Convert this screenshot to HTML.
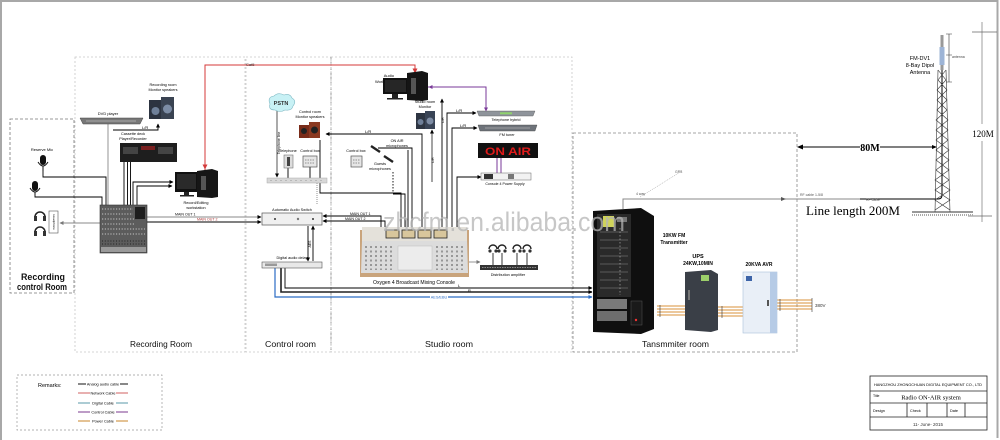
<!DOCTYPE html>
<html><head><meta charset="utf-8"><style>
html,body{margin:0;padding:0;background:#fff;}
svg{display:block;font-family:"Liberation Sans",sans-serif;}
</style></head><body>
<svg width="1000" height="440" viewBox="0 0 1000 440" xmlns="http://www.w3.org/2000/svg">
<defs>
<marker id="ab" markerWidth="4" markerHeight="4" refX="3.5" refY="2" orient="auto" markerUnits="userSpaceOnUse"><path d="M0,0 L4,2 L0,4z" fill="#000"/></marker>
<marker id="ag" markerWidth="4" markerHeight="4" refX="3.5" refY="2" orient="auto" markerUnits="userSpaceOnUse"><path d="M0,0 L4,2 L0,4z" fill="#777"/></marker>
<marker id="ar" markerWidth="5" markerHeight="5" refX="4.5" refY="2.5" orient="auto" markerUnits="userSpaceOnUse"><path d="M0,0 L5,2.5 L0,5z" fill="#d43a3a"/></marker>
<marker id="abl" markerWidth="4" markerHeight="4" refX="3.5" refY="2" orient="auto" markerUnits="userSpaceOnUse"><path d="M0,0 L4,2 L0,4z" fill="#2b6cc4"/></marker>
<marker id="ap" markerWidth="4" markerHeight="4" refX="3.5" refY="2" orient="auto" markerUnits="userSpaceOnUse"><path d="M0,0 L4,2 L0,4z" fill="#7a3a99"/></marker>
</defs>
<rect width="1000" height="440" fill="#fff"/>
<!-- outer border -->
<path d="M1,440 V1 H997.5 V438" fill="none" stroke="#a8a8a8" stroke-width="2"/>

<!-- room boxes -->
<g fill="none" stroke-width="0.8">
<rect x="10" y="119" width="64" height="174" stroke="#777" stroke-dasharray="3,2"/>
<rect x="75" y="57" width="170" height="295" stroke="#c8c8c8" stroke-dasharray="2,2"/>
<rect x="246" y="57" width="85" height="295" stroke="#c8c8c8" stroke-dasharray="2,2"/>
<line x1="331" y1="57" x2="331" y2="352" stroke="#888" stroke-dasharray="3,2"/>
<rect x="331" y="57" width="241" height="295" stroke="#c8c8c8" stroke-dasharray="2,2"/>
<rect x="573" y="133" width="224" height="219" stroke="#888" stroke-dasharray="3,2"/>
</g>

<!-- room labels -->
<g font-size="9" fill="#111" font-weight="bold">
<text x="43" y="280" text-anchor="middle" textLength="44" lengthAdjust="spacingAndGlyphs">Recording</text>
<text x="42" y="290" text-anchor="middle" textLength="50" lengthAdjust="spacingAndGlyphs">control Room</text>
</g>
<g font-size="8.5" fill="#111">
<text x="130" y="347" textLength="62" lengthAdjust="spacingAndGlyphs">Recording Room</text>
<text x="265" y="347" textLength="51" lengthAdjust="spacingAndGlyphs">Control room</text>
<text x="425" y="347" textLength="48" lengthAdjust="spacingAndGlyphs">Studio room</text>
<text x="642" y="347" textLength="67" lengthAdjust="spacingAndGlyphs">Tansmmiter room</text>
</g>

<!-- ================= CONNECTIONS ================= -->
<!-- red Cat5 -->
<path d="M205,170 V65 H415 V73" fill="none" stroke="#d43a3a" stroke-width="1" marker-end="url(#ar)"/>
<line x1="205" y1="160" x2="205" y2="169" stroke="#d43a3a" marker-end="url(#ar)"/>
<text x="246" y="66" font-size="4" fill="#333">Cat5</text>
<!-- purple -->
<path d="M428,87 H486 V111" fill="none" stroke="#7a3a99" stroke-width="1" marker-end="url(#ap)"/>
<line x1="430" y1="87" x2="429" y2="87" stroke="#7a3a99" marker-end="url(#ap)"/>
<path d="M497,157 V173 M501,157 V173" stroke="#7a3a99" stroke-width="1"/>

<g fill="none" stroke="#000" stroke-width="0.9">
<!-- recording room -->
<path d="M108,123 V205" stroke="#888"/>
<path d="M113,130 H158 V124" marker-end="url(#ab)"/>
<path d="M124,162 V206 M127.5,162 V206 M130.5,162 V206"/>
<path d="M133,206 V182 H173" marker-end="url(#ab)"/>
<path d="M137,206 V186 H172" marker-end="url(#ab)"/>
<path d="M43,171 V177 H106 V205"/>
<path d="M35,194 V197 H102 V205"/>
<path d="M100,223 H60" stroke="#888" marker-end="url(#ag)"/>
<path d="M147,217 H261" stroke="#888" marker-end="url(#ab)"/>
<path d="M147,222 H261" marker-end="url(#ab)"/>
<!-- control room -->
<path d="M277,108 V177" stroke="#444" marker-end="url(#ab)"/>
<path d="M288,168 V178 M310,167 V178"/>
<path d="M320,140 V193 H401 V227"/>
<path d="M317,183 V205" stroke="#888" stroke-dasharray="1,1"/>
<path d="M422,227 V134 H326" marker-end="url(#ab)"/>
<path d="M381,227 V216 H323" marker-end="url(#ab)"/>
<path d="M385,227 V221 H323" marker-end="url(#ab)"/>
<path d="M308,226 V261" marker-end="url(#ab)"/>
<path d="M313,261 V226" marker-end="url(#ab)"/>
<path d="M285,268 V288 H592" marker-end="url(#ab)"/>
<path d="M281,268 V292 H592" stroke="#222" stroke-width="1.6" marker-end="url(#ab)"/>
<!-- studio -->
<path d="M378,148 H412 V227"/>
<path d="M393,172 V193" stroke-dasharray="1.5,1.5"/>
<path d="M393,194 H405 V227"/>
<path d="M408,150 V227"/>
<path d="M432,182 V130" stroke="#333" marker-end="url(#ab)"/>
<path d="M442,227 V99" marker-end="url(#ab)"/>
<path d="M447,227 V113 H476" marker-end="url(#ab)"/>
<path d="M452,227 V128 H477" marker-end="url(#ab)"/>
<path d="M457,227 V177 H481" marker-end="url(#ab)"/>
<path d="M469,262 H480" stroke="#888" marker-end="url(#ag)"/>
<path d="M493,253 V265 M502,253 V265 M517,253 V265 M527,253 V265" stroke="#222"/>
</g>
<path d="M275,268 V297 H592" fill="none" stroke="#2b6cc4" stroke-width="1.2" marker-end="url(#abl)"/>

<!-- transmitter feeder & tower lines -->
<path d="M623,209 V199 H860" fill="none" stroke="#888" stroke-width="1"/>
<path d="M860,199 H938 Q942,199 942,195 V62" fill="none" stroke="#000" stroke-width="1"/>
<path d="M786,199 L781,197 L781,201z" fill="#555"/>
<line x1="800" y1="147" x2="860" y2="147" stroke="#000" stroke-width="1"/>
<line x1="880" y1="147" x2="936" y2="147" stroke="#000" stroke-width="1"/>
<path d="M797,147 L803,144.5 L803,149.5z" fill="#000"/>
<path d="M937,147 L932,145 L932,149z" fill="#000"/>
<text x="870" y="151" font-family="Liberation Serif,serif" font-size="10" font-weight="bold" text-anchor="middle">80M</text>
<path d="M982,22 V124 M982,141 V222" stroke="#888" stroke-width="0.8"/>
<path d="M972,32 H997 M968,216 H992" stroke="#666" stroke-width="0.8"/>
<text x="983" y="137" font-family="Liberation Serif,serif" font-size="9" text-anchor="middle">120M</text>
<text x="806" y="215" font-family="Liberation Serif,serif" font-size="12.5" textLength="94" lengthAdjust="spacingAndGlyphs">Line length 200M</text>
<g font-size="3.5" fill="#555">
<text x="636" y="195">4 way</text><text x="675" y="173">GPS</text>
<text x="800" y="196">RF cable  1-5/8</text><text x="866" y="201">RF cable</text>
</g>
<path d="M640,197 L682,171" stroke="#888" stroke-width="0.5" stroke-dasharray="1,1"/>

<!-- power lines -->
<g stroke="#d8913a" stroke-width="0.9">
<path d="M657,306 H685 M657,309 H685 M657,312 H685 M657,315 H685"/>
<path d="M718,307 H743 M718,310 H743 M718,313 H743 M718,316 H743"/>
<path d="M777,300 H812 M777,303 H812 M777,306 H812 M777,309 H812"/>
</g>
<g stroke="#333" stroke-width="0.6">
<path d="M660,305 V317 M722,306 V318 M780,299 V311 M812,298 V312"/>
</g>
<text x="815" y="307" font-size="4.5" fill="#333">380V</text>

<!-- ================= DEVICES ================= -->
<!-- Recording room -->
<polygon points="80,118 143,118 140,124 83,124" fill="#777" stroke="#444" stroke-width="0.5"/>
<line x1="86" y1="121" x2="136" y2="121" stroke="#bbb" stroke-width="0.8"/>
<text x="108" y="115" font-size="4" text-anchor="middle">DVD player</text>
<rect x="149" y="100" width="13" height="19" fill="#2c3340"/>
<rect x="161" y="97" width="13" height="22" fill="#3a4352"/>
<circle cx="155.5" cy="111" r="4" fill="#6f8099"/><circle cx="167.5" cy="109" r="4.5" fill="#7c8ca5"/>
<text x="163" y="86" font-size="3.8" text-anchor="middle">Recording room</text>
<text x="163" y="91" font-size="3.8" text-anchor="middle">Monitor speakers</text>
<text x="142" y="129" font-size="4">L/R</text>
<text x="133" y="135" font-size="3.8" text-anchor="middle">Cassette deck</text>
<text x="133" y="140" font-size="3.8" text-anchor="middle">Player/Recorder</text>
<rect x="120" y="143" width="57" height="19" fill="#1e1e1e"/>
<rect x="123" y="147" width="15" height="7" fill="#444"/><rect x="158" y="147" width="15" height="7" fill="#444"/>
<rect x="141" y="146" width="14" height="4" fill="#7a2020"/>
<!-- microphones -->
<text x="42" y="151" font-size="4" text-anchor="middle">Reserve Mic</text>
<rect x="40" y="155" width="6" height="10" rx="3" fill="#111"/><path d="M38,162 Q43,170 48,162" fill="none" stroke="#111"/><line x1="43" y1="166" x2="43" y2="171" stroke="#111"/>
<rect x="32" y="181" width="6" height="10" rx="3" fill="#111"/><path d="M30,188 Q35,196 40,188" fill="none" stroke="#111"/><line x1="35" y1="192" x2="35" y2="195" stroke="#111"/>
<!-- headphones -->
<g fill="none" stroke="#222" stroke-width="1.5">
<path d="M35,217 A5,5 0 0 1 45,217"/><path d="M35,232 A5,5 0 0 1 45,232"/>
</g>
<g fill="#333"><rect x="34" y="216" width="3" height="5"/><rect x="43" y="216" width="3" height="5"/><rect x="34" y="231" width="3" height="5"/><rect x="43" y="231" width="3" height="5"/></g>
<rect x="49" y="211" width="9" height="22" fill="#fff" stroke="#555" stroke-width="0.6"/>
<text x="53" y="222" font-size="3" transform="rotate(90 53 222)" text-anchor="middle">Headphone</text>
<!-- mixer -->
<rect x="100" y="205" width="47" height="48" fill="#5c5c5c" stroke="#333" stroke-width="0.6"/>
<g stroke="#b0b0b0" stroke-width="1.2" stroke-dasharray="1.2,1.6">
<line x1="102" y1="209" x2="133" y2="209"/><line x1="102" y1="214" x2="133" y2="214"/>
<line x1="102" y1="219" x2="135" y2="219"/><line x1="102" y1="224" x2="135" y2="224"/>
<line x1="102" y1="229" x2="145" y2="229"/><line x1="102" y1="234" x2="145" y2="234"/>
</g>
<rect x="135" y="207" width="10" height="12" fill="#1e1e1e"/>
<g stroke="#222" stroke-width="1" stroke-dasharray="1,1.8"><line x1="102" y1="241" x2="145" y2="241"/><line x1="102" y1="244" x2="145" y2="244"/></g>
<rect x="101" y="247" width="45" height="5" fill="#9a9a9a"/>
<!-- rec PC -->
<rect x="175" y="172" width="23" height="20" fill="#111"/>
<rect x="177" y="174" width="19" height="15" fill="#2a2a2a"/>
<rect x="184" y="192" width="5" height="3" fill="#222"/><rect x="180" y="195" width="14" height="1.5" fill="#222"/>
<polygon points="197,171 212,169 218,171 218,197 212,198 197,197" fill="#161616"/>
<rect x="201" y="176" width="5" height="14" fill="#555"/>
<text x="196" y="204" font-size="3.8" text-anchor="middle">Record/Editing</text>
<text x="196" y="209" font-size="3.8" text-anchor="middle">workstation</text>
<text x="175" y="215.5" font-size="3.6">MAIN OUT 1</text>
<text x="197" y="220.5" font-size="3.6" fill="#a33">MAIN OUT 2</text>

<!-- Control room -->
<path d="M270,104 Q267,97 274,96 Q278,92 284,95 Q290,93 292,98 Q297,101 293,106 Q292,111 285,110 Q280,113 275,110 Q268,110 270,104z" fill="#c8f1f5" stroke="#7fb9c4" stroke-width="0.6"/>
<text x="281" y="105" font-size="5.5" font-weight="bold" text-anchor="middle" fill="#333">PSTN</text>
<text x="280" y="143" font-size="3.5" transform="rotate(-90 280 143)" text-anchor="middle">Telephone line</text>
<text x="310" y="113" font-size="3.8" text-anchor="middle">Control room</text>
<text x="310" y="118" font-size="3.8" text-anchor="middle">Monitor speakers</text>
<rect x="299" y="125" width="10" height="13" fill="#7a2c1a"/><rect x="309" y="122" width="11" height="16" fill="#8b3a22"/>
<circle cx="304" cy="131" r="3" fill="#222"/><circle cx="314.5" cy="130" r="3.5" fill="#222"/>
<text x="365" y="133" font-size="4">L/R</text>
<text x="288" y="152" font-size="3.8" text-anchor="middle">Telephone</text>
<rect x="284" y="155" width="9" height="13" fill="#ddd" stroke="#777" stroke-width="0.6"/><rect x="287" y="157" width="3" height="9" fill="#444"/>
<text x="310" y="152" font-size="3.8" text-anchor="middle">Control box</text>
<rect x="303" y="156" width="14" height="11" fill="#e6e6e6" stroke="#555" stroke-width="0.7"/>
<path d="M305,160 H315 M305,163 H315" stroke="#777" stroke-width="0.8" stroke-dasharray="1.5,1"/>
<rect x="267" y="178" width="60" height="5" fill="#d8d8d8" stroke="#aaa" stroke-width="0.5"/>
<path d="M270,180.5 H325" stroke="#999" stroke-width="0.6" stroke-dasharray="2,3"/>
<text x="292" y="211" font-size="3.8" text-anchor="middle">Automatic Audio Switch</text>
<rect x="262" y="213" width="60" height="12" fill="#f0f0f0" stroke="#555" stroke-width="0.7"/>
<circle cx="275" cy="219" r="1" fill="#333"/><circle cx="298" cy="219" r="1.2" fill="#777"/><circle cx="313" cy="219" r="1" fill="#333"/>
<text x="350" y="215" font-size="3.6">MAIN OUT 1</text>
<text x="345" y="220" font-size="3.6">MAIN OUT 2</text>
<text x="311" y="244" font-size="3.5" transform="rotate(-90 311 244)" text-anchor="middle">AES</text>
<text x="292" y="259" font-size="3.8" text-anchor="middle">Digital audio delay</text>
<rect x="262" y="262" width="60" height="6" fill="#e8e8e8" stroke="#555" stroke-width="0.6"/>
<rect x="265" y="263.5" width="12" height="2.5" fill="#999"/>

<!-- Studio -->
<text x="394" y="77" font-size="4" text-anchor="end">Audio</text>
<text x="396" y="83" font-size="4" text-anchor="end">Workstation</text>
<rect x="383" y="78" width="25" height="16" fill="#111"/>
<rect x="385" y="80" width="21" height="12" fill="#262626"/>
<rect x="392" y="94" width="6" height="4" fill="#222"/><rect x="387" y="98" width="16" height="1.5" fill="#222"/>
<polygon points="407,73 422,71 428,73 428,100 422,101 407,100" fill="#151515"/>
<rect x="411" y="78" width="5" height="16" fill="#555"/>
<text x="425" y="103" font-size="3.8" text-anchor="middle">Studio room</text>
<text x="425" y="108" font-size="3.8" text-anchor="middle">Monitor</text>
<rect x="416" y="113" width="9" height="16" fill="#2d3542"/><rect x="425" y="111" width="10" height="18" fill="#394456"/>
<circle cx="420.5" cy="122" r="3" fill="#6e7f98"/><circle cx="430" cy="121" r="3.5" fill="#7d8ca4"/>
<text x="434" y="160" font-size="3.5" transform="rotate(-90 434 160)" text-anchor="middle">L/R</text>
<text x="444" y="120" font-size="3.5" transform="rotate(-90 444 120)" text-anchor="middle">L/R</text>
<text x="456" y="112" font-size="4">L/R</text>
<text x="460" y="127" font-size="4">L/R</text>
<!-- rack devices -->
<polygon points="477,111 535,111 533,116 479,116" fill="#8f949b" stroke="#555" stroke-width="0.4"/>
<rect x="500" y="112.3" width="12" height="2" fill="#8fd36b"/>
<text x="506" y="121" font-size="3.8" text-anchor="middle">Telephone hybrid</text>
<polygon points="478,125 537,125 535,131 480,131" fill="#6e737a" stroke="#444" stroke-width="0.4"/>
<line x1="485" y1="128" x2="530" y2="128" stroke="#ccc" stroke-width="0.6"/>
<text x="507" y="136" font-size="3.8" text-anchor="middle">FM tuner</text>
<rect x="478" y="143" width="60" height="15" fill="#111"/>
<text x="508" y="155" font-size="11" font-weight="bold" fill="#e01a1a" text-anchor="middle" textLength="46" lengthAdjust="spacingAndGlyphs">ON AIR</text>
<rect x="481" y="173" width="50" height="7" fill="#f2f2f2" stroke="#666" stroke-width="0.5"/>
<rect x="484" y="174" width="9" height="5" fill="#333"/><rect x="508" y="174" width="6" height="5" fill="#777"/>
<text x="505" y="185" font-size="3.6" text-anchor="middle">Console 4 Power Supply</text>
<text x="356" y="152" font-size="3.8" text-anchor="middle">Control box</text>
<rect x="351" y="156" width="11" height="11" fill="#e6e6e6" stroke="#555" stroke-width="0.7"/>
<path d="M353,160 H360 M353,163 H360" stroke="#777" stroke-width="0.8" stroke-dasharray="1.5,1"/>
<text x="397" y="142" font-size="3.8" text-anchor="middle">ON AIR</text>
<text x="397" y="147" font-size="3.8" text-anchor="middle">microphones</text>
<path d="M371,146 L380,152" stroke="#222" stroke-width="2.4"/>
<path d="M384,156 L393,162" stroke="#222" stroke-width="2.4"/>
<text x="380" y="165" font-size="3.8" text-anchor="middle">Guests</text>
<text x="380" y="170" font-size="3.8" text-anchor="middle">microphones</text>
<!-- console -->
<polygon points="360,230 469,230 469,277 360,277" fill="#c9a47c"/>
<rect x="362" y="227" width="105" height="14" fill="#e4e1da"/>
<g fill="#d8c69c" stroke="#222" stroke-width="0.8">
<rect x="386" y="230" width="13" height="8"/><rect x="402" y="230" width="13" height="8"/>
<rect x="418" y="230" width="13" height="8"/><rect x="434" y="230" width="13" height="8"/>
</g>
<polygon points="362,241 467,241 468,273 361,273" fill="#dcdcdc"/>
<rect x="398" y="246" width="34" height="24" fill="#ececec" stroke="#bbb" stroke-width="0.5"/>
<g stroke="#555" stroke-width="1" stroke-dasharray="2,2.5">
<path d="M366,246 V270 M371,246 V270 M376,246 V270 M381,246 V270 M386,246 V270 M391,246 V270"/>
<path d="M437,246 V270 M442,246 V270 M447,246 V270 M452,246 V270 M457,246 V270 M462,246 V270"/>
</g>
<text x="414" y="284" font-size="5" text-anchor="middle" textLength="82" lengthAdjust="spacingAndGlyphs">Oxygen 4 Broadcast Mixing Console</text>
<!-- headphone distribution -->
<g fill="none" stroke="#222" stroke-width="1.4">
<path d="M489,249 A4,4 0 0 1 497,249"/><path d="M498,249 A4,4 0 0 1 506,249"/>
<path d="M513,249 A4,4 0 0 1 521,249"/><path d="M523,249 A4,4 0 0 1 531,249"/>
</g>
<g fill="#333"><circle cx="490" cy="251" r="1.6"/><circle cx="496" cy="251" r="1.6"/><circle cx="499" cy="251" r="1.6"/><circle cx="505" cy="251" r="1.6"/><circle cx="514" cy="251" r="1.6"/><circle cx="520" cy="251" r="1.6"/><circle cx="524" cy="251" r="1.6"/><circle cx="530" cy="251" r="1.6"/></g>
<rect x="480" y="265" width="58" height="5" fill="#333"/>
<path d="M482,267.5 H536" stroke="#888" stroke-width="1" stroke-dasharray="1.5,1"/>
<text x="508" y="276" font-size="3.8" text-anchor="middle">Distribution amplifier</text>
<text x="458" y="287" font-size="4">L</text>
<text x="468" y="292" font-size="4">R</text>
<rect x="430" y="295" width="18" height="4" fill="#fff"/>
<text x="439" y="298.5" font-size="3.8" fill="#2b6cc4" text-anchor="middle">AES/EBU</text>

<!-- Transmitter -->
<polygon points="593,211 641,208 654,216 654,329 641,334 593,332" fill="#0f0f0f"/>
<rect x="597" y="214" width="34" height="83" fill="#2a2a2a"/>
<rect x="603" y="216" width="11" height="11" fill="#cfd35a"/>
<rect x="617" y="217" width="10" height="5" fill="#777"/>
<g stroke="#888" stroke-width="0.6">
<path d="M600,232 H628 M600,240 H628 M600,248 H628 M600,256 H628 M600,264 H628 M600,272 H628 M600,280 H628 M600,288 H628"/>
</g>
<g stroke="#bbb" stroke-width="0.6" stroke-dasharray="1.5,2"><path d="M620,228 V295"/></g>
<rect x="597" y="299" width="30" height="10" fill="#7a7a7a"/>
<rect x="597" y="311" width="30" height="10" fill="#6e6e6e"/>
<rect x="631" y="301" width="11" height="24" fill="#1a1a1a" stroke="#555" stroke-width="0.5"/>
<circle cx="636" cy="320" r="1.2" fill="#e33"/>
<text x="674" y="237" font-size="5" font-weight="bold" text-anchor="middle">10KW FM</text>
<text x="674" y="244" font-size="5" font-weight="bold" text-anchor="middle">Transmitter</text>
<!-- UPS -->
<text x="698" y="258" font-size="5.5" font-weight="bold" text-anchor="middle">UPS</text>
<text x="698" y="265" font-size="5" font-weight="bold" text-anchor="middle">24KW,10MIN</text>
<polygon points="685,272 711,270 718,274 718,330 711,332 685,330" fill="#3a3f47"/>
<rect x="701" y="275" width="8" height="6" fill="#9ccf6a"/>
<rect x="688" y="290" width="2" height="10" fill="#777"/>
<!-- AVR -->
<text x="759" y="266" font-size="5" font-weight="bold" text-anchor="middle">20KVA AVR</text>
<rect x="743" y="272" width="34" height="61" fill="#e9eff7" stroke="#a9c0da" stroke-width="0.6"/>
<rect x="770" y="272" width="7" height="61" fill="#b6cbe6"/>
<rect x="746" y="276" width="6" height="5" fill="#3d64a8"/>
<rect x="767" y="300" width="2" height="6" fill="#555"/>

<!-- Tower -->
<g stroke="#333" stroke-width="0.6" fill="none">
<path d="M938,70 L935,212 M946,70 L950,212"/>
<path d="M938,70 L946,80 L937,90 L947,100 L937,110 L948,120 L936,130 L948,140 L936,150 L949,160 L936,170 L949,180 L935,190 L950,200 L935,210"/>
<path d="M946,70 L938,80 L947,90 L937,100 L947,110 L936,120 L948,130 L936,140 L949,150 L936,160 L949,170 L935,180 L950,190 L935,200 L950,210"/>
</g>
<rect x="940.5" y="35" width="3" height="35" fill="#999"/>
<rect x="939.5" y="47" width="5" height="18" fill="#9db4d6"/>
<path d="M949,34 V82 M946,34 H952 M946,55 H952 M946,82 H952" stroke="#333" stroke-width="0.6"/>
<text x="952" y="58" font-size="3.5" fill="#444">antenna</text>
<text x="920" y="60" font-size="5.5" text-anchor="middle">FM-DV1</text>
<text x="920" y="67" font-size="5.5" text-anchor="middle">8-Bay Dipol</text>
<text x="920" y="74" font-size="5.5" text-anchor="middle">Antenna</text>
<line x1="912" y1="212" x2="973" y2="212" stroke="#333" stroke-width="1"/>
<path d="M912,215 H973" stroke="#aaa" stroke-width="2" stroke-dasharray="1,1"/>

<!-- Watermark -->
<text x="383" y="231" font-size="27" fill="#b4b4b4" fill-opacity="0.75" textLength="242" lengthAdjust="spacingAndGlyphs">zhcfm.en.alibaba.com</text>

<!-- Remarks -->
<rect x="17" y="375" width="145" height="55" fill="none" stroke="#999" stroke-width="0.7" stroke-dasharray="2,2"/>
<text x="38" y="387" font-size="5.5">Remarks:</text>
<g stroke-width="1">
<line x1="78" y1="384" x2="128" y2="384" stroke="#111"/>
<line x1="78" y1="393" x2="128" y2="393" stroke="#d06060"/>
<line x1="78" y1="403" x2="128" y2="403" stroke="#5a9aa8"/>
<line x1="78" y1="412" x2="128" y2="412" stroke="#7b3a8f"/>
<line x1="78" y1="421" x2="128" y2="421" stroke="#c8842a"/>
</g>
<g font-size="3.8" text-anchor="middle">
<rect x="86" y="381" width="34" height="5" fill="#fff"/><text x="103" y="385.5">Analog audio cable</text>
<rect x="90" y="390" width="26" height="5" fill="#fff"/><text x="103" y="394.5">Network Cable</text>
<rect x="90" y="400" width="26" height="5" fill="#fff"/><text x="103" y="404.5">Digital Cable</text>
<rect x="90" y="409" width="26" height="5" fill="#fff"/><text x="103" y="413.5">Control Cable</text>
<rect x="90" y="418" width="26" height="5" fill="#fff"/><text x="103" y="422.5">Power Cable</text>
</g>

<!-- Title block -->
<g fill="none" stroke="#222" stroke-width="0.8">
<rect x="870" y="376" width="117" height="54"/>
<path d="M870,391 H987 M870,403 H987 M870,417 H987"/>
<path d="M907,403 V417 M927,403 V417 M947,403 V417 M965,403 V417"/>
</g>
<text x="928" y="386" font-size="3.4" text-anchor="middle" textLength="108" lengthAdjust="spacingAndGlyphs">HANGZHOU ZHONGCHUAN DIGITAL EQUIPMENT CO., LTD</text>
<text x="873" y="397" font-size="3.5">Title</text>
<text x="931" y="399.5" font-family="Liberation Serif,serif" font-size="6.5" text-anchor="middle">Radio ON-AIR system</text>
<text x="873" y="412" font-size="3.8">Design</text>
<text x="910" y="412" font-size="3.8">Check</text>
<text x="950" y="412" font-size="3.8">Date</text>
<text x="928" y="426" font-size="4.5" text-anchor="middle" fill="#333">11- June- 2015</text>
</svg>
</body></html>
